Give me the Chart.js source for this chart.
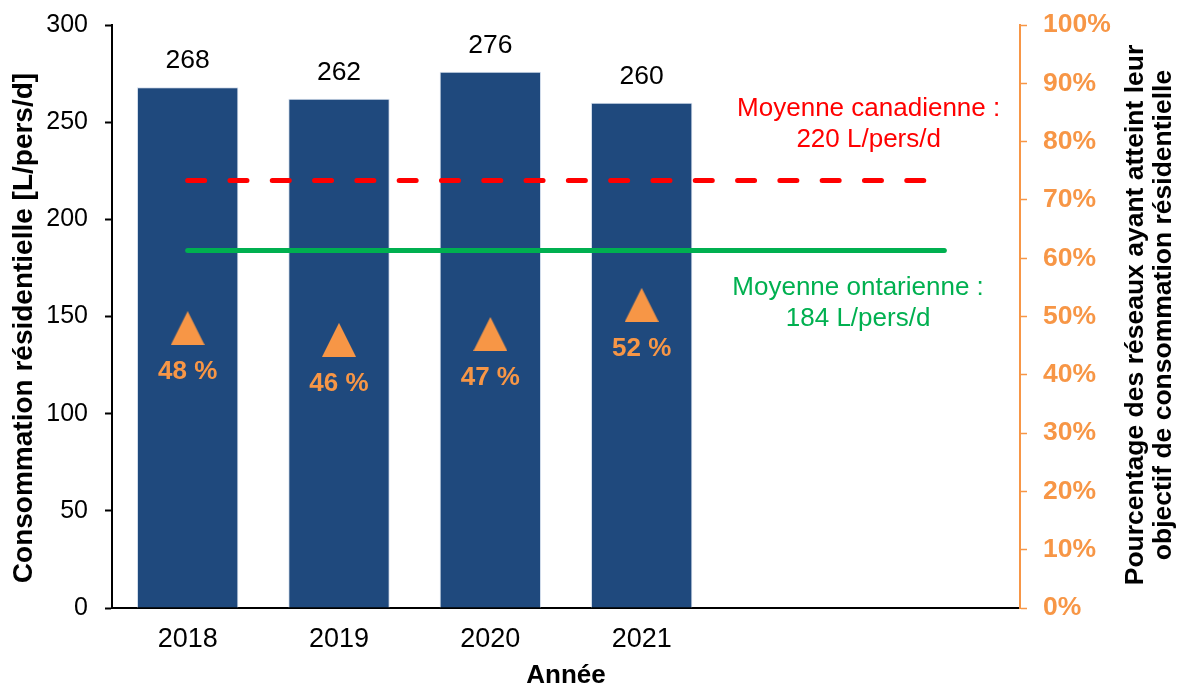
<!DOCTYPE html>
<html lang="fr">
<head>
<meta charset="utf-8">
<title>Consommation résidentielle</title>
<script src="https://cdn.jsdelivr.net/npm/chart.js@4.4.1/dist/chart.umd.min.js"></script>
<style>
  html, body { margin: 0; padding: 0; background: #fff; }
  #wrap { width: 1181px; height: 689px; }
</style>
</head>
<body>
<div id="wrap"><canvas id="consoChart" width="1181" height="689"></canvas></div>
<script>
/* Consommation résidentielle par année + % des réseaux ayant atteint l'objectif */

const annees = ['2018', '2019', '2020', '2021', '', ''];
const consommation = [268, 262, 276, 260, null, null];        // L/pers/d
const pourcentageObjectif = [48, 46, 47, 52, null, null];     // %
const moyenneCanadienne = [220, 220, 220, 220, 220, 220];
const moyenneOntarienne = [184, 184, 184, 184, 184, 184];

const BLEU = '#1F497D';
const ORANGE = '#F79646';
const ROUGE = '#FF0000';
const VERT = '#00B050';
const POLICE = "'Liberation Sans', Arial, sans-serif";

Chart.defaults.font.family = POLICE;
Chart.defaults.font.size = 26;
Chart.defaults.color = '#000';

// marqueur triangle
function triangleMarqueur(w, h, couleur) {
    const c = document.createElement('canvas');
    c.width = w;
    c.height = h;
    const g = c.getContext('2d');
    g.fillStyle = couleur;
    g.beginPath();
    g.moveTo(w / 2, 0);
    g.lineTo(w, h);
    g.lineTo(0, h);
    g.closePath();
    g.fill();
    return c;
}

// étiquettes des barres, des triangles et des moyennes
const etiquettesPlugin = {
    id: 'etiquettes',
    afterDatasetsDraw(chart) {
        const ctx = chart.ctx;
        const x = chart.scales.x;
        const y = chart.scales.y;
        ctx.save();
        ctx.textAlign = 'center';
        ctx.textBaseline = 'middle';

        // valeurs au-dessus des barres
        ctx.font = `26.5px ${POLICE}`;
        ctx.fillStyle = '#000';
        chart.getDatasetMeta(0).data.forEach((bar, i) => {
            if (consommation[i] == null) return;
            ctx.fillText(String(consommation[i]), bar.x, bar.y - 26);
        });

        // pourcentages sous les triangles
        ctx.font = `bold 26px ${POLICE}`;
        ctx.fillStyle = ORANGE;
        chart.getDatasetMeta(3).data.forEach((pt, i) => {
            if (pourcentageObjectif[i] == null) return;
            ctx.fillText(pourcentageObjectif[i] + ' %', pt.x, pt.y + 44);
        });

        // textes des moyennes
        ctx.font = `26px ${POLICE}`;
        ctx.fillStyle = ROUGE;
        ctx.fillText('Moyenne canadienne :', x.getPixelForValue(4.5), y.getPixelForValue(257));
        ctx.fillText(moyenneCanadienne[0] + ' L/pers/d', x.getPixelForValue(4.5), y.getPixelForValue(241));
        ctx.fillStyle = VERT;
        ctx.fillText('Moyenne ontarienne :', x.getPixelForValue(4.43), y.getPixelForValue(165));
        ctx.fillText(moyenneOntarienne[0] + ' L/pers/d', x.getPixelForValue(4.43), y.getPixelForValue(149));
        ctx.restore();
    }
};

// titres des axes verticaux, lus de bas en haut
const titresPlugin = {
    id: 'titres',
    afterDraw(chart) {
        const ctx = chart.ctx;
        const vertical = (txt, px, py, taille) => {
            ctx.save();
            ctx.font = `bold ${taille}px ${POLICE}`;
            ctx.fillStyle = '#000';
            ctx.textAlign = 'center';
            ctx.textBaseline = 'middle';
            ctx.translate(px, py);
            ctx.rotate(-Math.PI / 2);
            ctx.fillText(txt, 0, 0);
            ctx.restore();
        };
        vertical('Consommation résidentielle [L/pers/d]', 24, 328, 28);
        vertical('Pourcentage des réseaux ayant atteint leur', 1136, 315, 26.5);
        vertical('objectif de consommation résidentielle', 1164, 315, 26.5);
    }
};

const ctx = document.getElementById('consoChart').getContext('2d');

new Chart(ctx, {
    type: 'bar',
    data: {
        labels: annees,
        datasets: [
            {
                type: 'bar',
                label: 'Consommation résidentielle',
                data: consommation,
                backgroundColor: BLEU,
                borderColor: '#D6E0EE',
                borderWidth: 1,
                borderSkipped: 'bottom',
                categoryPercentage: 1,
                barPercentage: 0.67,
                yAxisID: 'y',
                order: 3
            },
            {
                type: 'line',
                label: 'Moyenne canadienne',
                data: moyenneCanadienne,
                borderColor: ROUGE,
                borderWidth: 5,
                borderDash: [17, 25.3],
                borderCapStyle: 'round',
                pointRadius: 0,
                pointHoverRadius: 0,
                fill: false,
                yAxisID: 'y',
                order: 2
            },
            {
                type: 'line',
                label: 'Moyenne ontarienne',
                data: moyenneOntarienne,
                borderColor: VERT,
                borderWidth: 5,
                borderCapStyle: 'round',
                pointRadius: 0,
                pointHoverRadius: 0,
                fill: false,
                yAxisID: 'y',
                order: 1
            },
            {
                type: 'line',
                label: '% des réseaux',
                data: pourcentageObjectif,
                showLine: false,
                pointStyle: triangleMarqueur(34, 34, ORANGE),
                pointRadius: 17,
                pointHoverRadius: 17,
                yAxisID: 'y1',
                order: 0
            }
        ]
    },
    options: {
        responsive: false,
        animation: false,
        devicePixelRatio: 1,
        layout: { padding: { top: 25, left: 0, right: 0, bottom: 0 } },
        plugins: {
            legend: { display: false },
            tooltip: { enabled: false }
        },
        scales: {
            x: {
                grid: { display: true, drawOnChartArea: false, drawTicks: false },
                border: { display: true, color: '#000', width: 2 },
                ticks: { padding: 15, color: '#000', font: { size: 27 } },
                title: {
                    display: true,
                    text: 'Année',
                    color: '#000',
                    font: { size: 26, weight: 'bold', lineHeight: 1 },
                    padding: { top: 0, bottom: 0 }
                },
                afterFit: s => { s.height = 81; }
            },
            y: {
                position: 'left',
                min: 0,
                max: 300,
                ticks: { stepSize: 50, padding: 17, color: '#000', font: { size: 25 } },
                grid: { drawOnChartArea: false, tickLength: 7, tickWidth: 2, tickColor: '#000' },
                border: { display: true, color: '#000', width: 2 },
                afterFit: s => { s.width = 112; s.paddingTop = 0; s.paddingBottom = 0; }
            },
            y1: {
                position: 'right',
                min: 0,
                max: 100,
                ticks: {
                    stepSize: 10,
                    padding: 16,
                    color: ORANGE,
                    font: { size: 26.5, weight: 'bold' },
                    callback: v => v + '%'
                },
                grid: { drawOnChartArea: false, tickLength: 7, tickWidth: 1.5, tickColor: ORANGE },
                border: { display: true, color: ORANGE, width: 2 },
                afterFit: s => { s.width = 161; s.paddingTop = 0; s.paddingBottom = 0; }
            }
        }
    },
    plugins: [etiquettesPlugin, titresPlugin]
});
</script>
</body>
</html>
